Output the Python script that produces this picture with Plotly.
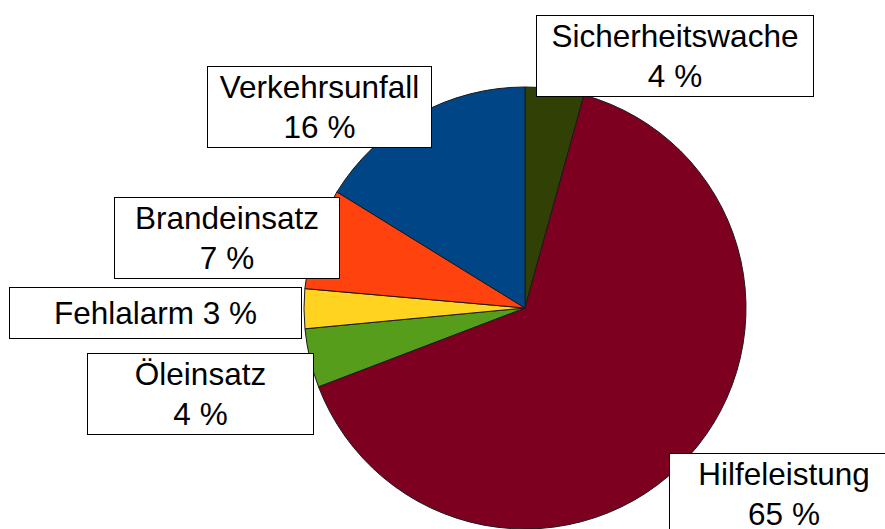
import plotly.graph_objects as go

W, H = 885, 529

categories = ["Sicherheitswache", "Hilfeleistung", "Öleinsatz", "Fehlalarm", "Brandeinsatz", "Verkehrsunfall"]
values = [4.3, 64.9, 4.3, 2.9, 7.4, 16.2]
pct_labels = ["4 %", "65 %", "4 %", "3 %", "7 %", "16 %"]
colors = ["#314004", "#7e0021", "#579d1c", "#ffd320", "#ff420e", "#004586"]

# label box layout in pixels: (center x, center y, width, height, single line?)
boxes = {
    "Sicherheitswache": (675, 56, 278, 82, False),
    "Hilfeleistung": (784, 494, 230, 82, False),
    "Öleinsatz": (200.5, 394, 227, 82, False),
    "Fehlalarm": (155.5, 313, 293, 52, True),
    "Brandeinsatz": (227, 238, 226, 82, False),
    "Verkehrsunfall": (319.5, 107, 225, 82, False),
}

cx, cy, r = 525, 308, 221

fig = go.Figure(go.Pie(
    labels=categories,
    values=values,
    sort=False,
    direction="clockwise",
    rotation=0,
    marker=dict(colors=colors, line=dict(color="#1a1a1a", width=1)),
    textinfo="none",
    hoverinfo="label+percent",
    showlegend=False,
    domain=dict(x=[(cx - r) / W, (cx + r) / W], y=[1 - (cy + r) / H, 1 - (cy - r) / H]),
))

annotations = []
for cat, pct in zip(categories, pct_labels):
    bx, by, bw, bh, single = boxes[cat]
    text = f"{cat} {pct}" if single else f"{cat}<br>{pct}"
    annotations.append(dict(
        text=text, showarrow=False,
        xref="paper", yref="paper",
        x=bx / W, y=1 - by / H, xanchor="center", yanchor="middle",
        width=bw - 2, height=bh - 2, align="center", valign="middle",
        bordercolor="black", borderwidth=1, borderpad=0, bgcolor="white",
        font=dict(family="Liberation Sans, Arial, sans-serif", size=31.5, color="black"),
    ))

fig.update_layout(
    width=W, height=H,
    margin=dict(l=0, r=0, t=0, b=0),
    paper_bgcolor="white", plot_bgcolor="white",
    annotations=annotations,
)

fig.write_html("out.html")
